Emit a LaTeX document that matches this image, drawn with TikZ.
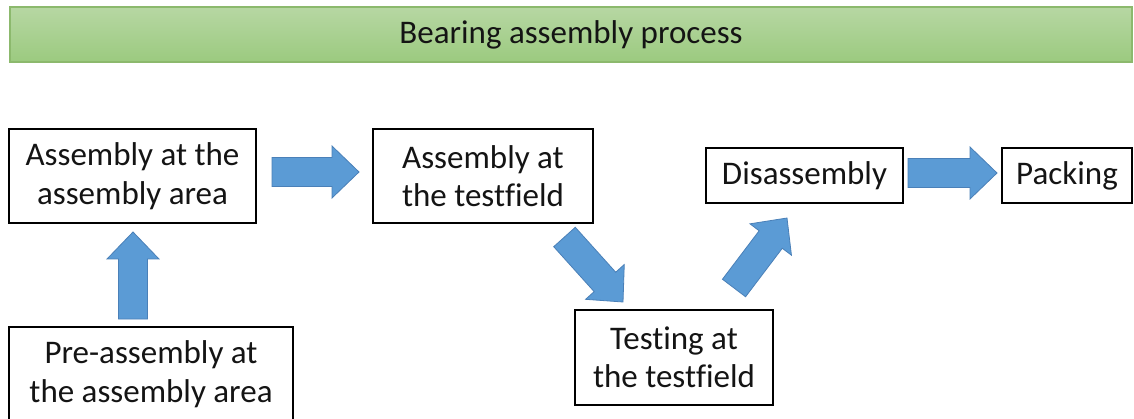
\documentclass[tikz,border=0pt]{standalone}
\usepackage{fontspec}
\setmainfont{Carlito}[Ligatures=CommonOff]
\usetikzlibrary{calc}

\definecolor{barTop}{HTML}{B7D7A3}
\definecolor{barBottom}{HTML}{9BCA7F}
\definecolor{barEdge}{HTML}{8CB96D}
\definecolor{arrFill}{HTML}{5B9BD5}
\definecolor{arrEdge}{HTML}{4A80B8}
\definecolor{inkText}{HTML}{141414}

\tikzset{
  titlebar/.style={draw=barEdge, line width=1.5pt, top color=barTop, bottom color=barBottom,
    minimum width=1122pt, minimum height=55pt, inner sep=0pt, text=inkText,
    font=\fontsize{33}{38}\selectfont},
  stepbox/.style={draw=black, line width=2pt, fill=white, align=center, inner sep=0pt,
    text=inkText, font=\fontsize{33}{38.5}\selectfont},
  blockarrow/.style={fill=arrFill, draw=arrEdge, line width=0.8pt, line join=miter},
}

% block arrow from a tail coordinate to a tip coordinate
\newcommand\blockarr[2]{%
  \coordinate (ba-h) at ($(#2)!27pt!(#1)$);
  \draw[blockarrow]
    ($(#1)!14.5pt!90:(#2)$)
    -- ($(ba-h)!14.5pt!-90:(#1)$)
    -- ($(ba-h)!26pt!-90:(#1)$)
    -- (#2)
    -- ($(ba-h)!26pt!90:(#1)$)
    -- ($(ba-h)!14.5pt!90:(#1)$)
    -- ($(#1)!14.5pt!-90:(#2)$)
    -- cycle;
}

\begin{document}
\begin{tikzpicture}[x=1pt, y=-1pt]
  \fill[white] (0,0) rectangle (1134,419);
  \useasboundingbox (0,0) rectangle (1134,419);

  % heading
  \node[titlebar] (title) at (571,34.5) {Bearing assembly process};

  % process steps
  \node[stepbox, minimum width=247pt, minimum height=94pt] (asmArea) at (132.5,176)
    {Assembly at the\\assembly area};
  \node[stepbox, minimum width=220pt, minimum height=94pt] (asmTest) at (483,176)
    {Assembly at\\the testfield};
  \node[stepbox, minimum width=197pt, minimum height=55pt] (disasm) at (804.5,175.5)
    {Disassembly};
  \node[stepbox, minimum width=130pt, minimum height=55pt] (packing) at (1067,175.5)
    {Packing};
  \node[stepbox, minimum width=198pt, minimum height=95pt] (testing) at (674,357.5)
    {Testing at\\the testfield};
  \node[stepbox, minimum width=284pt, minimum height=94pt] (preAsm) at (151,374)
    {Pre-assembly at\\the assembly area};

  % arrow ends
  \coordinate (a1s) at (272,172);   \coordinate (a1e) at (359,172);
  \coordinate (a2s) at (133,319);   \coordinate (a2e) at (133,232);
  \coordinate (a3s) at (564.5,237); \coordinate (a3e) at (623,302);
  \coordinate (a4s) at (734,288);   \coordinate (a4e) at (787,218);
  \coordinate (a5s) at (908,173);   \coordinate (a5e) at (997,173);

  \blockarr{a1s}{a1e}
  \blockarr{a2s}{a2e}
  \blockarr{a3s}{a3e}
  \blockarr{a4s}{a4e}
  \blockarr{a5s}{a5e}
\end{tikzpicture}
\end{document}
